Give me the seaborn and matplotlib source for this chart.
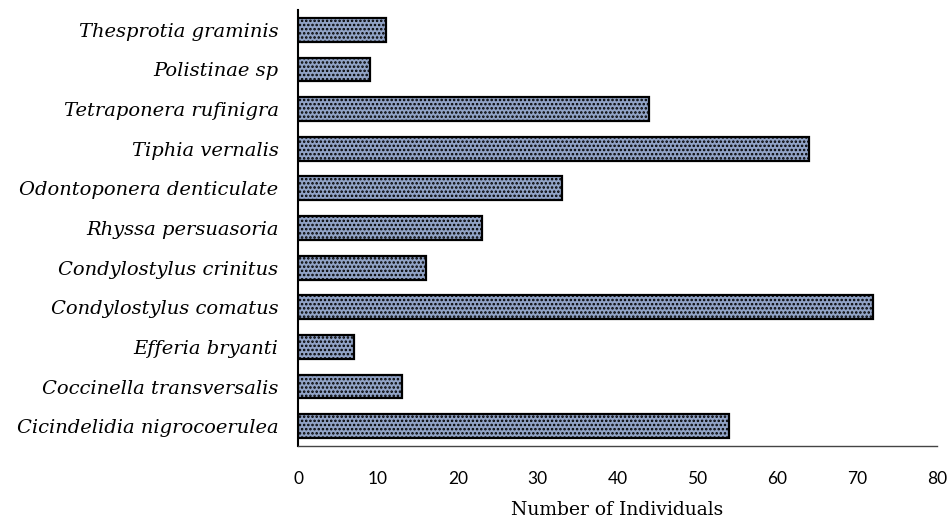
import matplotlib
matplotlib.use("Agg")
import matplotlib.pyplot as plt
import seaborn as sns
import pandas as pd

species = [
    "Thesprotia graminis",
    "Polistinae sp",
    "Tetraponera rufinigra",
    "Tiphia vernalis",
    "Odontoponera denticulate",
    "Rhyssa persuasoria",
    "Condylostylus crinitus",
    "Condylostylus comatus",
    "Efferia bryanti",
    "Coccinella transversalis",
    "Cicindelidia nigrocoerulea",
]
individuals = [11, 9, 44, 64, 33, 23, 16, 72, 7, 13, 54]
x_ticks = [0, 10, 20, 30, 40, 50, 60, 70, 80]

df = pd.DataFrame({"species": species, "individuals": individuals})

sns.set_theme(style="white")
plt.rcParams["hatch.linewidth"] = 1.2
plt.rcParams["hatch.color"] = "#4a505c"

fig = plt.figure(figsize=(9.51, 5.27), dpi=100)
ax = fig.add_axes([298 / 951, 81 / 527, (937 - 298) / 951, (446 - 10) / 527])

sns.barplot(data=df, y="species", x="individuals", orient="h",
            color="#91a3c6", saturation=1, width=0.6,
            edgecolor="black", linewidth=1.6, ax=ax)
for p in ax.patches:
    p.set_hatch("....")
    if hasattr(p, "set_hatchcolor"):
        p.set_hatchcolor("#4a505c")

ax.set_xlim(0, 80)
ax.set_ylim(10.5, -0.5)
ax.set_xticks(x_ticks)
ax.set_xticklabels([str(t) for t in x_ticks], fontsize=12.5, family="Lato", color="black")
ax.set_yticks(range(len(species)))
ax.set_yticklabels(species, fontsize=14, family="DejaVu Serif", style="italic", color="black")
ax.tick_params(axis="both", length=0)
ax.tick_params(axis="y", pad=14)
ax.tick_params(axis="x", pad=18)
ax.set_ylabel("")
ax.set_xlabel("Number of Individuals", fontsize=13.5, family="DejaVu Serif", color="black", labelpad=10)

for s in ["top", "right"]:
    ax.spines[s].set_visible(False)
ax.spines["left"].set_color("black")
ax.spines["left"].set_linewidth(1.5)
ax.spines["bottom"].set_color("#444444")
ax.spines["bottom"].set_linewidth(1.0)

fig.savefig("out.png", dpi=100)
